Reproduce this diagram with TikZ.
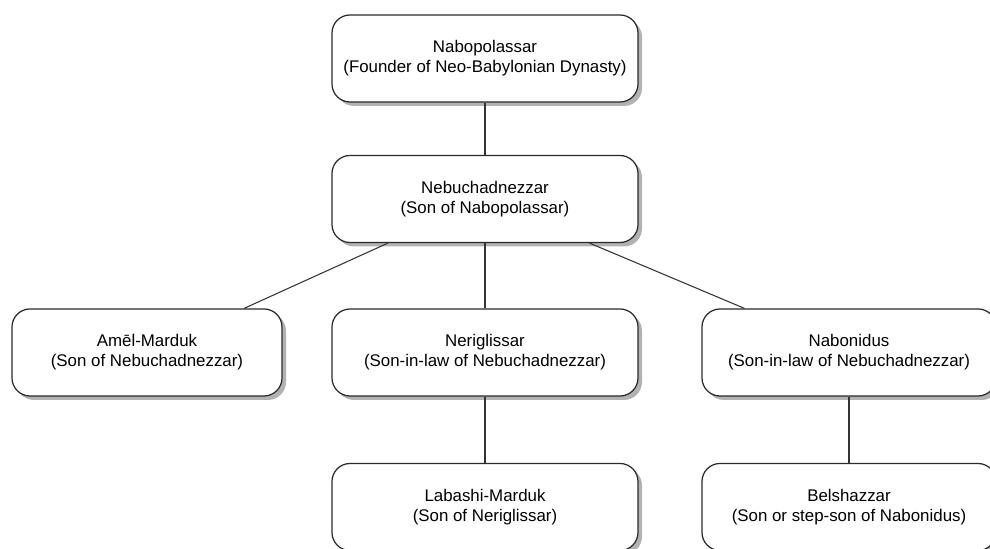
\documentclass[tikz,border=0pt]{standalone}
\usepackage{fontspec}
\setmainfont{Liberation Sans}
\usetikzlibrary{shadows}
\definecolor{boxline}{HTML}{2B2B2B}
\definecolor{linkline}{HTML}{333333}

\begin{document}
\begin{tikzpicture}[
		font=\fontsize{9.6}{11.4}\selectfont,
		box/.style={draw=boxline, fill=white, line width=0.7pt, rounded corners=0.36cm,
			align=center, inner sep=0pt, minimum height=1.74cm,
			drop shadow={shadow xshift=0.08cm, shadow yshift=-0.08cm, fill=black, opacity=0.3}},
		link/.style={draw=linkline, line width=0.6pt},
	]

	% canvas
	\useasboundingbox (0,0) rectangle (19.8,10.98);

	% x coordinates
	\def\xleft{2.94}
	\def\xmid{9.70}
	\def\xright{16.98}

	% y coordinates
	\def\yfounder{9.81}
	\def\yking{7.00}
	\def\yheirs{3.93}
	\def\ysons{0.84}

	% nodes
	\node[box, minimum width=6.12cm] (nabopolassar) at (\xmid, \yfounder)
	{Nabopolassar\\(Founder of Neo-Babylonian Dynasty)};

	\node[box, minimum width=6.12cm] (nebuchadnezzar) at (\xmid, \yking)
	{Nebuchadnezzar\\(Son of Nabopolassar)};

	\node[box, minimum width=5.4cm] (amelmarduk) at (\xleft, \yheirs)
	{Amēl-Marduk\\(Son of Nebuchadnezzar)};
	\node[box, minimum width=6.12cm] (neriglissar) at (\xmid, \yheirs)
	{Neriglissar\\(Son-in-law of Nebuchadnezzar)};
	\node[box, minimum width=5.88cm] (nabonidus) at (\xright, \yheirs)
	{Nabonidus\\(Son-in-law of Nebuchadnezzar)};

	\node[box, minimum width=6.12cm] (labashi) at (\xmid, \ysons)
	{Labashi-Marduk\\(Son of Neriglissar)};
	\node[box, minimum width=5.88cm] (belshazzar) at (\xright, \ysons)
	{Belshazzar\\(Son or step-son of Nabonidus)};

	% family links
	\draw[link] (nabopolassar) -- (nebuchadnezzar);
	\draw[link] (nebuchadnezzar) -- (amelmarduk);
	\draw[link] (nebuchadnezzar) -- (neriglissar);
	\draw[link] (nebuchadnezzar) -- (nabonidus);
	\draw[link] (neriglissar) -- (labashi);
	\draw[link] (nabonidus) -- (belshazzar);

\end{tikzpicture}
\end{document}
